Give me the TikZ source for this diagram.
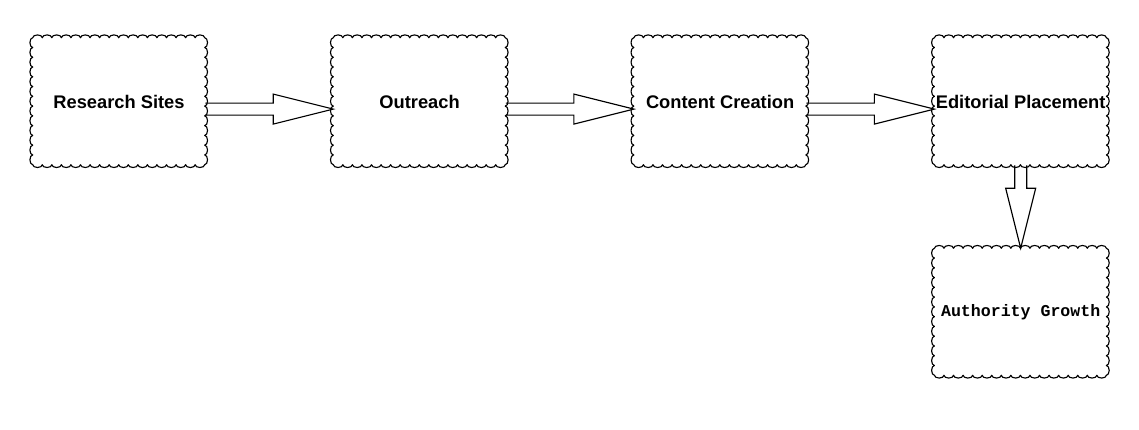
\documentclass[tikz,border=0pt]{standalone}
\usepackage{fontspec}
\setmainfont{Liberation Sans}
\newfontfamily\growthfont{Liberation Mono}
\usetikzlibrary{positioning,calc}

% scalloped outline round node #1
\newcommand{\scallop}[1]{%
  \draw[scallopline] (#1.north west)
    \foreach \i in {1,...,18}{ arc[start angle=180, end angle=0, x radius=0.119444cm, y radius=0.07cm]}
    \foreach \i in {1,...,13}{ arc[start angle=90, end angle=-90, x radius=0.07cm, y radius=0.122115cm]}
    \foreach \i in {1,...,18}{ arc[start angle=0, end angle=-180, x radius=0.119444cm, y radius=0.07cm]}
    \foreach \i in {1,...,13}{ arc[start angle=-90, end angle=-270, x radius=0.07cm, y radius=0.122115cm]}
    -- cycle;}

% hollow block arrow from #1 to #2
\newcommand{\blockarrow}[2]{%
  \path (#1) coordinate (ba-s) (#2) coordinate (ba-e);
  \path ($(ba-e)!1.5cm!(ba-s)$) coordinate (ba-h);
  \draw[blockline] ($(ba-s)!0.15cm!90:(ba-e)$) -- ($(ba-h)!0.15cm!90:(ba-e)$)
    -- ($(ba-h)!0.375cm!90:(ba-e)$) -- (ba-e) -- ($(ba-h)!0.375cm!-90:(ba-e)$)
    -- ($(ba-h)!0.15cm!-90:(ba-e)$) -- ($(ba-s)!0.15cm!-90:(ba-e)$);}

\begin{document}
\begin{tikzpicture}[node distance=3.2cm]
        \tikzset{stage/.style={rectangle, minimum width=4.3cm, minimum height=3.175cm, inner sep=0pt, align=center, font=\bfseries\fontsize{13}{15}\selectfont},
          scallopline/.style={line width=0.8pt, line join=round},
          blockline/.style={line width=0.8pt, line join=miter}}
        \useasboundingbox (0,0) rectangle (28.475,10.75);
        \node[stage] (research) at (2.975,8.2125) {Research Sites};
        \node[stage, right=of research] (outreach) {Outreach};
        \node[stage, right=of outreach] (content) {Content Creation};
        \node[stage, right=of content] (placement) {Editorial Placement};
        \node[stage, below=2.075cm of placement, font=\growthfont\bfseries\fontsize{11.8}{14}\selectfont] (growth) {Authority Growth};
        \foreach \n in {research,outreach,content,placement,growth}{\scallop{\n}}
        \blockarrow{$(research.east)+(0,-0.19)$}{$(outreach.west)+(0,-0.19)$}
        \blockarrow{$(outreach.east)+(0,-0.19)$}{$(content.west)+(0,-0.19)$}
        \blockarrow{$(content.east)+(0,-0.19)$}{$(placement.west)+(0,-0.19)$}
        \blockarrow{placement.south}{growth.north}
    \end{tikzpicture}
\end{document}
